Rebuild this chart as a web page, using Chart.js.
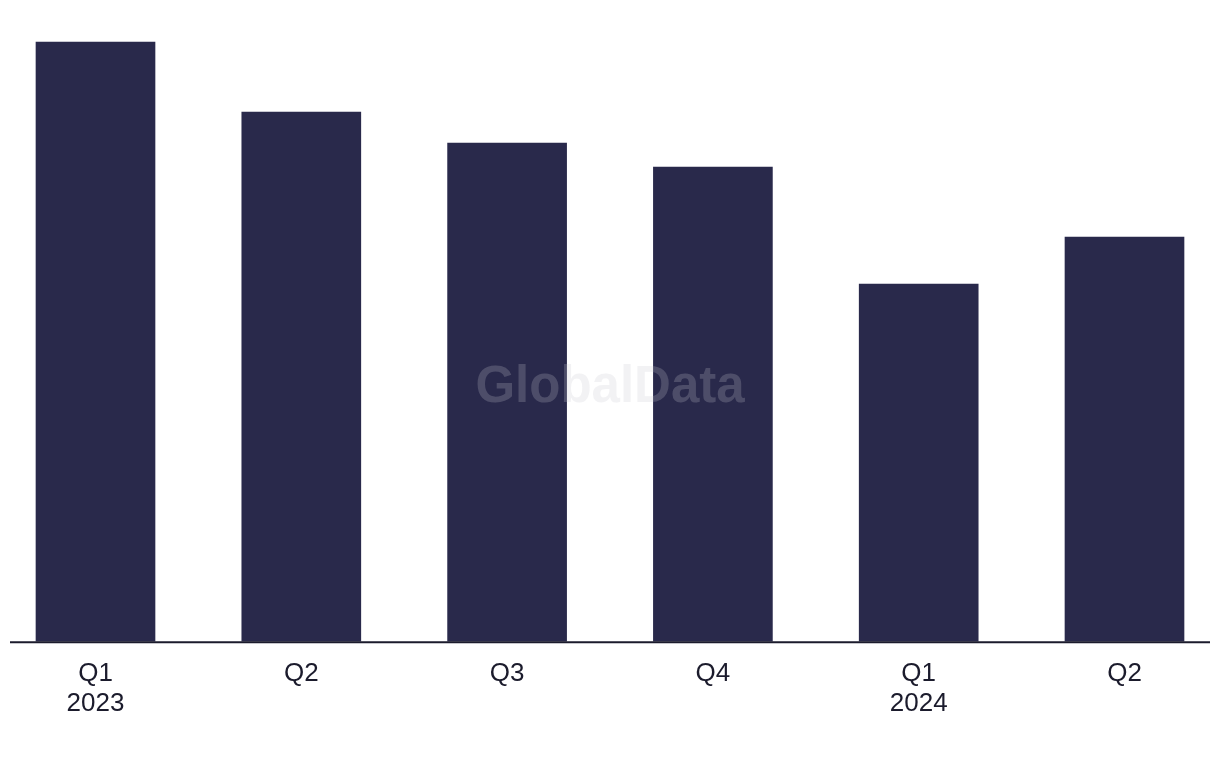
<!DOCTYPE html>
<html lang="en">
<head>
    <meta charset="UTF-8">
    <title>Quarterly chart</title>
    <script src="https://cdn.jsdelivr.net/npm/chart.js"></script>
    <style>
        html, body { margin: 0; padding: 0; background: #fff; }
        #wrap { width: 1220px; height: 768px; }
    </style>
</head>
<body>
    <div id="wrap"><canvas id="myChart"></canvas></div>
    <script>
        // data (relative bar heights, no y axis shown)
        var quarters = [['Q1', '2023'], 'Q2', 'Q3', 'Q4', ['Q1', '2024'], 'Q2'];
        var values = [599, 529, 498, 474, 357, 404];
        var yMax = 600;

        var barColor = '#29294b';
        var inkColor = '#1b1b2c';

        // baseline across the full width + watermark
        var extras = {
            id: 'extras',
            afterDatasetsDraw: function (chart) {
                var c = chart.ctx;
                var a = chart.chartArea;
                c.save();
                c.font = 'bold 51px "Liberation Sans", Arial, sans-serif';
                c.fillStyle = 'rgba(200, 200, 206, 0.23)';
                c.textAlign = 'center';
                c.textBaseline = 'alphabetic';
                c.fillText('GlobalData', 610, 402);

                c.strokeStyle = inkColor;
                c.lineWidth = 2;
                c.beginPath();
                c.moveTo(10, a.bottom + 1);
                c.lineTo(1210, a.bottom + 1);
                c.stroke();
                c.restore();
            }
        };

        var ctx = document.getElementById('myChart').getContext('2d');
        var myChart = new Chart(ctx, {
            type: 'bar',
            data: {
                labels: quarters,
                datasets: [{
                    data: values,
                    backgroundColor: barColor,
                    borderWidth: 0,
                    barThickness: 119,
                    clip: false
                }]
            },
            options: {
                responsive: true,
                maintainAspectRatio: false,
                animation: false,
                layout: {
                    padding: { left: 95.5, right: 95.5, top: 41, bottom: 31 }
                },
                plugins: {
                    legend: { display: false },
                    tooltip: { enabled: false }
                },
                scales: {
                    x: {
                        offset: false,
                        grid: { display: false, drawTicks: false },
                        border: { display: false },
                        ticks: {
                            color: inkColor,
                            padding: 18,
                            maxRotation: 0,
                            autoSkip: false,
                            font: { family: '"Liberation Sans", Arial, sans-serif', size: 26, lineHeight: 1.15 }
                        }
                    },
                    y: {
                        display: false,
                        min: 0,
                        max: yMax
                    }
                }
            },
            plugins: [extras]
        });
    </script>
</body>
</html>
